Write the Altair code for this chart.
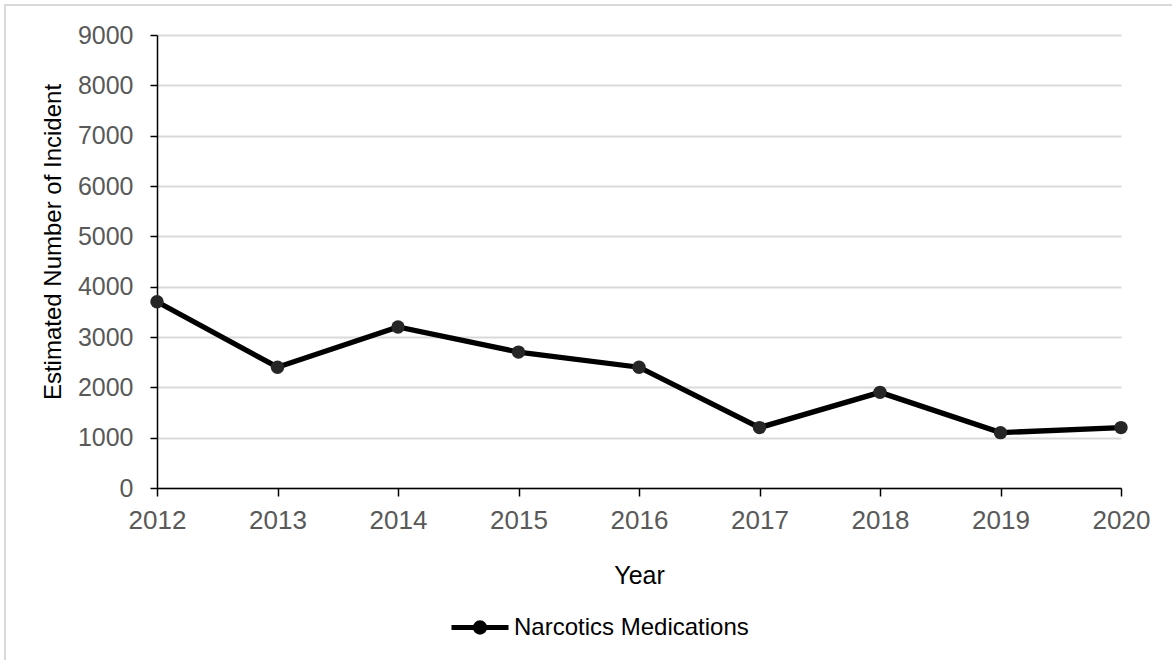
import altair as alt
import pandas as pd

years = [2012, 2013, 2014, 2015, 2016, 2017, 2018, 2019, 2020]
incidents = [3700, 2400, 3200, 2700, 2400, 1200, 1900, 1100, 1200]
series_name = "Narcotics Medications"
y_ticks = [0, 1000, 2000, 3000, 4000, 5000, 6000, 7000, 8000, 9000]

df = pd.DataFrame({"Year": years, "Value": incidents, "series": [series_name] * len(years)})

FONT = "Liberation Sans"
W, H = 964, 453
PL, PT = 157, 35

x_enc = alt.X("Year:Q", scale=alt.Scale(domain=[2012, 2020], nice=False, zero=False),
              axis=alt.Axis(values=years, format="d", title="Year", grid=False,
                            labelFlush=False, labelOverlap=False, labelFontSize=26,
                            titleFontSize=25,
                            tickSize=8, labelPadding=11, titleY=75, titleBaseline="top"))
y_enc = alt.Y("Value:Q", scale=alt.Scale(domain=[0, 9000], nice=False),
              axis=alt.Axis(values=y_ticks, format="d", title="Estimated Number of Incident",
                            labelFlush=False, labelOverlap=False, grid=True, labelFontSize=25,
                            titleFontSize=24,
                            gridColor="#d9d9d9", gridWidth=2,
                            tickSize=7, labelPadding=17,
                            titleAngle=270, titleX=-97, titleY=206.5,
                            titleBaseline="alphabetic", titleAlign="center"))

legend_path = ("M-1,0 L1,0 "
               "M-0.165,0 A0.165,0.165 0 1,1 0.165,0 A0.165,0.165 0 1,1 -0.165,0 Z "
               "M-0.05,0 A0.05,0.05 0 1,1 0.05,0 A0.05,0.05 0 1,1 -0.05,0 Z")

border = alt.Chart(df).mark_rect(fill=None, stroke="#d9d9d9", strokeWidth=2).encode(
    x=alt.value(5 - PL), x2=alt.value(1300), y=alt.value(5 - PT), y2=alt.value(800)
)

line = alt.Chart(df).mark_line(strokeWidth=5.3).encode(
    x=x_enc, y=y_enc,
    color=alt.Color("series:N", scale=alt.Scale(range=["black"]),
                    legend=alt.Legend(title=None, orient="none", legendX=292, legendY=561.5,
                                      padding=0, symbolType=legend_path, symbolSize=3249,
                                      symbolStrokeWidth=5, symbolStrokeColor="black",
                                      labelFontSize=24, labelColor="black", labelFont=FONT,
                                      labelOffset=3, labelLimit=500)),
)

points = alt.Chart(df).mark_circle(size=180, opacity=1, color="#262626").encode(
    x=alt.X("Year:Q"), y=alt.Y("Value:Q")
)

chart = alt.layer(border, line, points).properties(
    width=W, height=H,
    autosize=alt.AutoSizeParams(type="none"),
    padding={"left": PL, "top": PT, "right": 1172 - PL - W, "bottom": 660 - PT - H},
    background="white",
).configure_view(stroke=None).configure_axis(
    labelFont=FONT, titleFont=FONT,
    labelColor="#595959", titleColor="black", titleFontWeight="normal",
    domainColor="black", domainWidth=1.5, tickColor="black", tickWidth=1.5,
)

chart.save("out.html", embed_options={"renderer": "svg", "actions": False})
